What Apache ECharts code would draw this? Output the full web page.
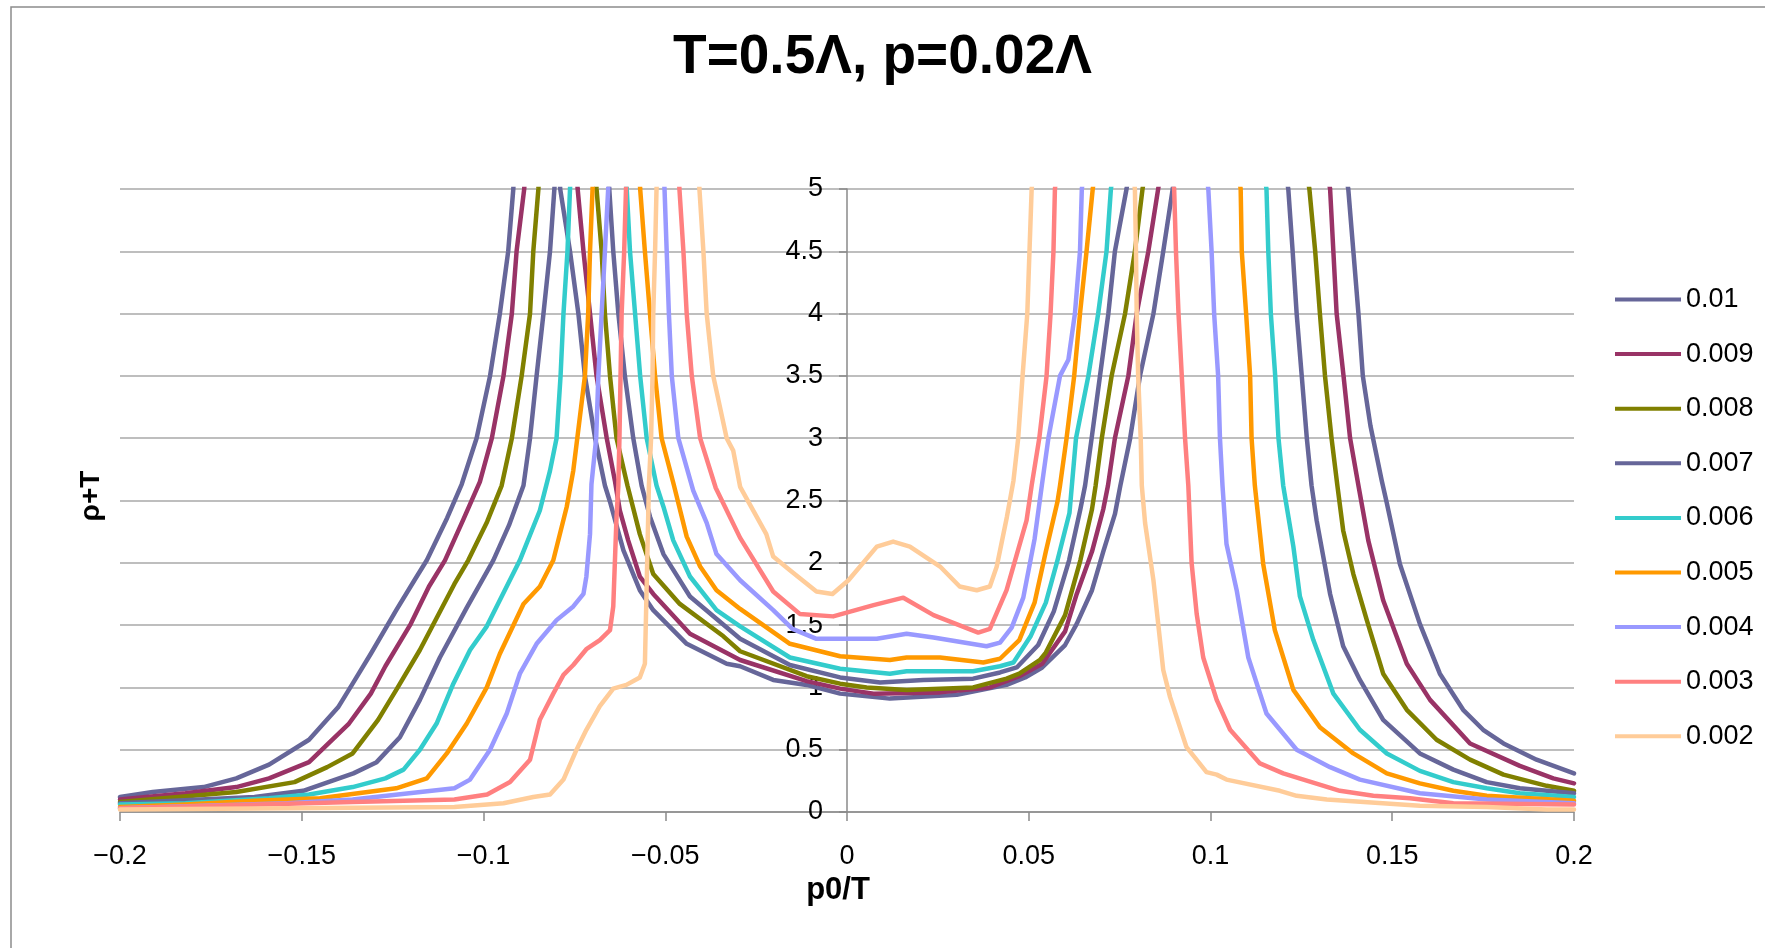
<!DOCTYPE html>
<html>
<head>
<meta charset="utf-8">
<script src="https://cdn.jsdelivr.net/npm/echarts@6/dist/echarts.min.js"></script>
<style>
  html, body { margin: 0; padding: 0; background: #fff; }
  #chart { width: 1765px; height: 948px; }
</style>
</head>
<body>
<div id="chart"></div>
<script>
// ---- Data (x = p0/T, y = rho+T); values above 5 are clipped by the axis ----
const seriesNames = ['0.01', '0.009', '0.008', '0.007', '0.006', '0.005', '0.004', '0.003', '0.002'];

const s010 = [[-0.2,0.12],[-0.191,0.16],[-0.177,0.20],[-0.168,0.27],[-0.159,0.38],[-0.148,0.58],[-0.140,0.84],[-0.136,1.03],[-0.131,1.27],[-0.124,1.62],[-0.119,1.86],[-0.1156,2.02],[-0.110,2.36],[-0.106,2.63],[-0.1019,3.0],[-0.0982,3.5],[-0.0955,4.0],[-0.0932,4.5],[-0.0918,5.0],
  [-0.0855,9],
  [-0.0789,5.0],[-0.0762,4.5],[-0.0739,4.0],[-0.0721,3.5],[-0.0693,3.0],[-0.0666,2.62],[-0.0652,2.49],[-0.0615,2.10],[-0.0570,1.78],[-0.0533,1.62],[-0.0441,1.35],[-0.0331,1.19],[-0.0294,1.17],[-0.0203,1.06],[-0.0111,1.02],[-0.0019,0.95],[0.0118,0.91],[0.0302,0.94],[0.0439,1.02],[0.0490,1.08],[0.0537,1.16],[0.0600,1.34],[0.0632,1.51],[0.0674,1.78],[0.0705,2.09],[0.0737,2.39],[0.0752,2.62],[0.0779,3.0],[0.0806,3.5],[0.0843,4.0],[0.0870,4.5],[0.0896,5.0],
  [0.114,9],
  [0.1379,5.0],[0.1393,4.5],[0.1407,4.0],[0.1419,3.5],[0.1440,3.1],[0.1471,2.66],[0.1485,2.48],[0.1521,1.99],[0.1576,1.51],[0.1631,1.11],[0.1695,0.82],[0.1750,0.66],[0.1806,0.55],[0.1897,0.42],[0.2,0.31]];

const s009 = [[-0.2,0.10],[-0.182,0.15],[-0.168,0.20],[-0.159,0.27],[-0.148,0.40],[-0.137,0.71],[-0.131,0.95],[-0.127,1.17],[-0.120,1.51],[-0.115,1.81],[-0.1106,2.02],[-0.1055,2.35],[-0.101,2.65],[-0.0977,3.0],[-0.0945,3.5],[-0.0922,4.0],[-0.0909,4.5],[-0.0888,5.0],
  [-0.0815,9],
  [-0.0741,5.0],[-0.0725,4.5],[-0.0707,4.0],[-0.0689,3.5],[-0.0661,3.0],[-0.0638,2.65],[-0.0625,2.42],[-0.0602,2.18],[-0.0570,1.89],[-0.0533,1.75],[-0.0432,1.43],[-0.0294,1.22],[-0.0111,1.05],[-0.0019,0.99],[0.0073,0.95],[0.0256,0.96],[0.0393,1.00],[0.0474,1.09],[0.0537,1.19],[0.0600,1.45],[0.0632,1.75],[0.0674,2.09],[0.0705,2.43],[0.0718,2.62],[0.0737,3.0],[0.0774,3.5],[0.0797,4.0],[0.0829,4.5],[0.0856,5.0],
  [0.109,9],
  [0.1329,5.0],[0.1338,4.5],[0.1347,4.0],[0.1366,3.5],[0.1384,3.0],[0.1407,2.62],[0.1434,2.18],[0.1475,1.70],[0.1540,1.19],[0.1604,0.90],[0.1714,0.55],[0.1851,0.37],[0.1943,0.27],[0.2,0.23]];

const s008 = [[-0.2,0.08],[-0.168,0.16],[-0.152,0.24],[-0.143,0.36],[-0.136,0.47],[-0.129,0.74],[-0.124,0.98],[-0.1175,1.30],[-0.108,1.83],[-0.1042,2.02],[-0.099,2.33],[-0.095,2.62],[-0.0922,3.0],[-0.0895,3.5],[-0.0872,4.0],[-0.0863,4.5],[-0.0849,5.0],
  [-0.077,9],
  [-0.0689,5.0],[-0.0675,4.5],[-0.0666,4.0],[-0.0652,3.5],[-0.0634,3.0],[-0.0604,2.62],[-0.0570,2.23],[-0.0533,1.91],[-0.0460,1.67],[-0.0340,1.41],[-0.0294,1.29],[-0.0111,1.09],[-0.0019,1.03],[0.0054,1.00],[0.0164,0.98],[0.0347,1.00],[0.0439,1.07],[0.0474,1.11],[0.0531,1.22],[0.0547,1.28],[0.0600,1.58],[0.0642,2.02],[0.0674,2.43],[0.0684,2.62],[0.0701,3.0],[0.0728,3.5],[0.0765,4.0],[0.0792,4.5],[0.0813,5.0],
  [0.104,9],
  [0.1272,5.0],[0.1288,4.5],[0.1301,4.0],[0.1315,3.5],[0.1333,3.0],[0.1349,2.62],[0.1365,2.26],[0.1393,1.91],[0.1430,1.54],[0.1475,1.11],[0.1540,0.82],[0.1622,0.58],[0.1714,0.42],[0.1806,0.30],[0.1925,0.21],[0.2,0.17]];

const s007 = [[-0.2,0.07],[-0.163,0.12],[-0.1496,0.17],[-0.1358,0.31],[-0.1294,0.40],[-0.123,0.60],[-0.1175,0.90],[-0.112,1.24],[-0.1046,1.64],[-0.0973,2.02],[-0.093,2.30],[-0.089,2.62],[-0.0872,3.0],[-0.0854,3.5],[-0.0835,4.0],[-0.0817,4.5],[-0.0805,5.0],
  [-0.073,9],
  [-0.0654,5.0],[-0.0643,4.5],[-0.0629,4.0],[-0.0611,3.5],[-0.0588,3.0],[-0.0565,2.62],[-0.0542,2.37],[-0.0505,2.07],[-0.0432,1.73],[-0.0294,1.39],[-0.0157,1.18],[-0.0019,1.08],[0.0091,1.04],[0.0210,1.06],[0.0347,1.07],[0.0421,1.12],[0.0467,1.16],[0.0526,1.34],[0.0569,1.61],[0.0611,2.02],[0.0642,2.43],[0.0655,2.62],[0.0673,3.0],[0.0696,3.5],[0.0719,4.0],[0.0737,4.5],[0.0769,5.0],
  [0.099,9],
  [0.1214,5.0],[0.1226,4.5],[0.1237,4.0],[0.1251,3.5],[0.1265,3.0],[0.1278,2.62],[0.1292,2.34],[0.1329,1.75],[0.1365,1.33],[0.1411,1.06],[0.1475,0.74],[0.1576,0.47],[0.1668,0.34],[0.1760,0.24],[0.1851,0.19],[0.2,0.15]];

const s006 = [[-0.2,0.06],[-0.182,0.07],[-0.159,0.11],[-0.148,0.14],[-0.136,0.20],[-0.127,0.27],[-0.122,0.34],[-0.1175,0.50],[-0.1129,0.71],[-0.1083,1.03],[-0.1037,1.30],[-0.0991,1.49],[-0.0900,2.02],[-0.0845,2.42],[-0.0817,2.74],[-0.0799,3.0],[-0.0788,3.5],[-0.0780,4.0],[-0.0769,4.5],[-0.0762,5.0],
  [-0.0685,9],
  [-0.0606,5.0],[-0.0597,4.5],[-0.0583,4.0],[-0.0569,3.5],[-0.0551,3.0],[-0.0524,2.62],[-0.0505,2.45],[-0.0478,2.18],[-0.0432,1.89],[-0.0359,1.62],[-0.0294,1.49],[-0.0157,1.24],[-0.0019,1.15],[0.0118,1.11],[0.0164,1.13],[0.0347,1.13],[0.0421,1.17],[0.0458,1.20],[0.0505,1.41],[0.0547,1.68],[0.0579,2.02],[0.0612,2.40],[0.0630,3.0],[0.0664,3.5],[0.0691,4.0],[0.0714,4.5],[0.0726,5.0],
  [0.094,9],
  [0.1154,5.0],[0.1159,4.5],[0.1166,4.0],[0.1178,3.5],[0.1187,3.0],[0.1200,2.62],[0.1228,2.13],[0.1246,1.73],[0.1283,1.38],[0.1338,0.95],[0.1411,0.66],[0.1485,0.47],[0.1576,0.33],[0.1668,0.24],[0.1760,0.19],[0.1851,0.15],[0.2,0.12]];

const s005 = [[-0.2,0.04],[-0.182,0.06],[-0.163,0.09],[-0.145,0.11],[-0.124,0.19],[-0.1156,0.27],[-0.1101,0.47],[-0.1046,0.71],[-0.0991,1.00],[-0.0955,1.27],[-0.0890,1.67],[-0.0845,1.81],[-0.0808,2.02],[-0.0771,2.45],[-0.0753,2.74],[-0.0742,3.0],[-0.0721,3.5],[-0.0712,4.0],[-0.0707,4.5],[-0.0700,5.0],
  [-0.0635,9],
  [-0.0569,5.0],[-0.0556,4.5],[-0.0542,4.0],[-0.0528,3.5],[-0.0510,3.0],[-0.0476,2.62],[-0.0441,2.21],[-0.0404,1.97],[-0.0359,1.78],[-0.0294,1.63],[-0.0157,1.35],[-0.0019,1.25],[0.0118,1.22],[0.0164,1.24],[0.0256,1.24],[0.0375,1.20],[0.0421,1.23],[0.0474,1.38],[0.0516,1.68],[0.0547,2.09],[0.0579,2.49],[0.0586,2.62],[0.0604,3.0],[0.0625,3.5],[0.0641,4.0],[0.0659,4.5],[0.0676,5.0],
  [0.088,9],
  [0.1083,5.0],[0.1086,4.5],[0.1098,4.0],[0.1109,3.5],[0.1113,3.0],[0.1122,2.62],[0.1145,1.99],[0.1177,1.46],[0.1228,0.98],[0.1301,0.68],[0.1393,0.47],[0.1485,0.31],[0.1576,0.23],[0.1668,0.17],[0.1760,0.13],[0.2,0.09]];

const s004 = [[-0.2,0.03],[-0.154,0.07],[-0.136,0.10],[-0.108,0.19],[-0.1037,0.26],[-0.0982,0.50],[-0.0936,0.79],[-0.0900,1.11],[-0.0854,1.35],[-0.0799,1.54],[-0.0753,1.65],[-0.0725,1.75],[-0.0717,1.89],[-0.0707,2.23],[-0.0703,2.63],[-0.0690,3.0],[-0.0684,3.5],[-0.0675,4.0],[-0.0666,4.5],[-0.0657,5.0],
  [-0.058,9],
  [-0.0502,5.0],[-0.0496,4.5],[-0.0490,4.0],[-0.0482,3.5],[-0.0464,3.0],[-0.0423,2.58],[-0.0386,2.32],[-0.0359,2.07],[-0.0294,1.86],[-0.0203,1.62],[-0.0150,1.47],[-0.0084,1.39],[0.0082,1.39],[0.0164,1.43],[0.0238,1.40],[0.0384,1.33],[0.0421,1.36],[0.0453,1.48],[0.0485,1.72],[0.0516,2.19],[0.0536,2.62],[0.0554,3.0],[0.0586,3.5],[0.0609,3.63],[0.0627,4.0],[0.0641,4.5],[0.0646,5.0],
  [0.082,9],
  [0.0994,5.0],[0.1003,4.5],[0.1010,4.0],[0.1021,3.5],[0.1026,3.0],[0.1033,2.62],[0.1044,2.15],[0.1072,1.78],[0.1104,1.24],[0.1154,0.79],[0.1237,0.50],[0.1329,0.36],[0.1411,0.26],[0.1576,0.15],[0.1760,0.10],[0.2,0.07]];

const s003 = [[-0.2,0.03],[-0.136,0.08],[-0.108,0.10],[-0.099,0.14],[-0.0927,0.24],[-0.0872,0.42],[-0.0845,0.74],[-0.0808,0.95],[-0.0780,1.10],[-0.0753,1.18],[-0.0716,1.31],[-0.0680,1.38],[-0.0652,1.46],[-0.0643,1.65],[-0.0634,2.37],[-0.0629,2.62],[-0.0626,3.0],[-0.0623,3.5],[-0.0620,4.0],[-0.0613,4.5],[-0.0608,5.0],
  [-0.053,9],
  [-0.0461,5.0],[-0.0450,4.5],[-0.0441,4.0],[-0.0427,3.5],[-0.0404,3.0],[-0.0361,2.60],[-0.0294,2.20],[-0.0203,1.77],[-0.0130,1.59],[-0.0038,1.57],[0.0073,1.66],[0.0155,1.72],[0.0238,1.58],[0.0361,1.44],[0.0393,1.47],[0.0439,1.78],[0.0494,2.34],[0.0508,2.62],[0.0529,3.0],[0.0549,3.5],[0.0560,4.0],[0.0568,4.5],[0.0572,5.0],
  [0.074,9],
  [0.0900,5.0],[0.0905,4.5],[0.0912,4.0],[0.0921,3.5],[0.0930,3.0],[0.0939,2.62],[0.0948,2.00],[0.0962,1.59],[0.0980,1.24],[0.1017,0.90],[0.1054,0.66],[0.1136,0.39],[0.1200,0.31],[0.1356,0.17],[0.1448,0.13],[0.1549,0.11],[0.1668,0.07],[0.2,0.06]];

const s002 = [[-0.2,0.02],[-0.108,0.04],[-0.0945,0.07],[-0.0863,0.12],[-0.0817,0.14],[-0.0780,0.26],[-0.0744,0.50],[-0.0717,0.66],[-0.0680,0.85],[-0.0643,0.99],[-0.0607,1.02],[-0.0570,1.08],[-0.0556,1.19],[-0.0552,1.70],[-0.0545,2.62],[-0.0539,3.0],[-0.0535,3.5],[-0.0533,4.0],[-0.0528,4.5],[-0.0524,5.0],
  [-0.0465,9],
  [-0.0406,5.0],[-0.0395,4.5],[-0.0386,4.0],[-0.0368,3.5],[-0.0331,3.0],[-0.0313,2.90],[-0.0294,2.61],[-0.0222,2.23],[-0.0203,2.05],[-0.0157,1.94],[-0.0084,1.77],[-0.0040,1.75],[0.0004,1.86],[0.0082,2.13],[0.0127,2.17],[0.0173,2.13],[0.0256,1.97],[0.0310,1.81],[0.0357,1.78],[0.0393,1.81],[0.0412,1.97],[0.0440,2.37],[0.0458,2.66],[0.0471,3.0],[0.0483,3.5],[0.0496,4.0],[0.0502,4.5],[0.0508,5.0],
  [0.065,9],
  [0.0792,5.0],[0.0795,4.5],[0.0797,4.0],[0.0801,3.5],[0.0808,3.0],[0.0811,2.62],[0.0820,2.32],[0.0843,1.86],[0.0870,1.14],[0.0889,0.92],[0.0934,0.52],[0.0989,0.32],[0.1017,0.30],[0.1044,0.26],[0.1191,0.17],[0.1237,0.13],[0.1320,0.10],[0.1576,0.05],[0.1760,0.04],[0.1925,0.02],[0.2,0.02]];

const seriesData = [s010, s009, s008, s007, s006, s005, s004, s003, s002];
const seriesColors = ['#666699', '#993366', '#808000', '#666699', '#33CCCC', '#FF9900', '#9999FF', '#FF8080', '#FFCC99'];

const FONT = '"Liberation Sans", Arial, sans-serif';
const GRID_LEFT = 120;

const chart = echarts.init(document.getElementById('chart'), null, { renderer: 'canvas' });

chart.setOption({
  animation: false,
  backgroundColor: '#ffffff',
  title: {
    text: 'T=0.5Λ, p=0.02Λ',
    left: 'center',
    top: 30,
    padding: 0,
    textStyle: { fontFamily: FONT, fontSize: 55, fontWeight: 'bold', color: '#000' }
  },
  legend: {
    orient: 'vertical',
    left: 1610,
    top: 281,
    itemWidth: 66,
    itemHeight: 4,
    itemGap: 27.6,
    icon: 'rect',
    data: seriesNames,
    textStyle: { fontFamily: FONT, fontSize: 27, color: '#000', lineHeight: 27 }
  },
  grid: { left: GRID_LEFT, top: 189, width: 1454, height: 623, containLabel: false },
  xAxis: {
    type: 'value',
    min: -0.2, max: 0.2, interval: 0.05,
    name: 'p0/T',
    nameLocation: 'middle',
    nameGap: 54,
    nameTextStyle: { fontFamily: FONT, fontSize: 31, fontWeight: 'bold', color: '#000', padding: [0, 18, 0, 0] },
    axisLine: { onZero: true, lineStyle: { color: '#8a8a8a', width: 1.5 } },
    axisTick: { show: true, length: 9, lineStyle: { color: '#8a8a8a', width: 1.5 } },
    axisLabel: {
      margin: 31, fontFamily: FONT, fontSize: 27, color: '#000',
      formatter: function (v) {
        const r = +(+v).toFixed(3);
        if (r === 0) return '0';
        return (r < 0 ? '\u2212' : '') + String(Math.abs(r));
      }
    },
    splitLine: { show: false }
  },
  yAxis: {
    type: 'value',
    min: 0, max: 5, interval: 0.5,
    offset: 0,
    axisLine: { show: true, onZero: false, lineStyle: { color: '#8a8a8a', width: 1.5 } },
    axisTick: { show: true, length: 8, lineStyle: { color: '#8a8a8a', width: 1.5 } },
    axisLabel: { margin: 24, fontFamily: FONT, fontSize: 27, color: '#000' },
    splitLine: { show: true, lineStyle: { color: '#a8a8a8', width: 1.5 } }
  },
  graphic: [
    { type: 'rect', silent: true, z: -10,
      shape: { x: 11, y: 7, width: 1800, height: 1000 },
      style: { fill: 'none', stroke: '#8c8c8c', lineWidth: 1.5 } },
    { type: 'text', x: 91, y: 496, rotation: Math.PI / 2,
      style: { text: 'ρ+T', fill: '#000', font: 'bold 28px ' + FONT, align: 'center', verticalAlign: 'middle' } }
  ],
  series: seriesNames.map(function (name, i) {
    return {
      name: name,
      type: 'line',
      data: seriesData[i],
      showSymbol: false,
      symbol: 'none',
      clip: true,
      smooth: false,
      color: seriesColors[i],
      lineStyle: { width: 4.5, color: seriesColors[i], cap: 'round', join: 'round' },
      emphasis: { disabled: true }
    };
  })
});

// Put the value axis on x = 0, as in the reference (labels move with it)
const zeroPx = chart.convertToPixel({ gridIndex: 0 }, [0, 0])[0];
chart.setOption({ yAxis: { offset: -(zeroPx - GRID_LEFT) } });
</script>
</body>
</html>
